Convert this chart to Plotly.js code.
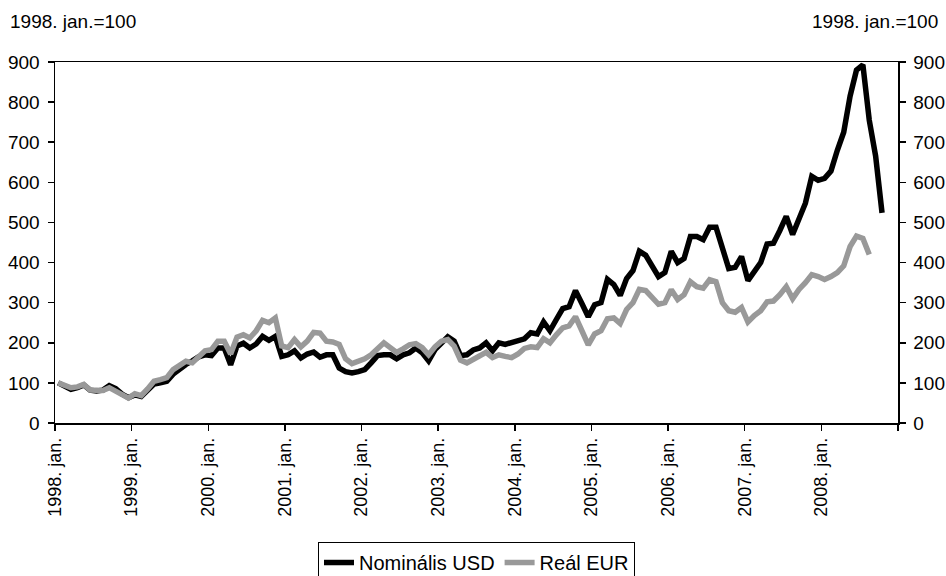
<!DOCTYPE html>
<html>
<head>
<meta charset="utf-8">
<script src="https://cdn.plot.ly/plotly-3.0.1.min.js"></script>
<style>html,body{margin:0;padding:0;background:#fff}#chart{width:946px;height:576px}</style>
</head>
<body>
<div id="chart"></div>
<script>
// Monthly index, 1998. jan. = 100
const yearLabels = ["1998. jan.","1999. jan.","2000. jan.","2001. jan.","2002. jan.","2003. jan.","2004. jan.","2005. jan.","2006. jan.","2007. jan.","2008. jan.",""];

const nominalUSD = [
  100, 92, 84, 88, 95, 82, 80, 82, 93, 86, 72, 63,        // 1998
  70, 66, 80, 97, 100, 104, 122, 135, 146, 155, 165, 170,  // 1999
  168, 187, 187, 145, 192, 199, 187, 197, 216, 206, 216, 166, // 2000
  170, 180, 162, 172, 177, 164, 170, 170, 137, 128, 125, 128, // 2001
  133, 150, 168, 170, 170, 160, 170, 175, 187, 175, 155, 183, // 2002
  200, 215, 204, 168, 170, 182, 187, 200, 180, 200, 196, 200, // 2003
  205, 210, 225, 222, 252, 230, 258, 285, 290, 330, 298, 265, // 2004
  295, 300, 358, 345, 318, 360, 380, 428, 418, 393, 365, 375, // 2005
  428, 400, 410, 465, 465, 457, 488, 488, 430, 385, 388, 415, // 2006
  355, 378, 400, 446, 448, 480, 515, 470, 508, 548, 615, 605, // 2007
  610, 628, 680, 725, 815, 880, 893, 755, 665, 524            // 2008
];

const realEUR = [
  100, 94, 88, 90, 96, 82, 81, 81, 88, 80, 70, 62,         // 1998
  73, 68, 85, 104, 108, 113, 133, 142, 154, 150, 165, 180,  // 1999
  183, 204, 204, 172, 214, 220, 212, 230, 256, 250, 262, 192, // 2000
  188, 208, 190, 204, 226, 224, 204, 202, 196, 160, 148, 153, // 2001
  160, 170, 185, 200, 188, 176, 185, 195, 198, 188, 170, 190, // 2002
  204, 208, 192, 157, 150, 160, 170, 176, 163, 170, 166, 163, // 2003
  172, 186, 190, 188, 210, 200, 220, 237, 242, 265, 230, 195, // 2004
  222, 230, 260, 262, 248, 283, 300, 333, 330, 312, 296, 300, // 2005
  332, 308, 320, 352, 340, 336, 357, 352, 300, 280, 276, 288, // 2006
  252, 268, 280, 302, 304, 320, 340, 310, 333, 350, 370, 365, // 2007
  358, 365, 375, 392, 440, 466, 460, 420                      // 2008
];

// month positions: each month sits in the middle of its category slot
function monthPos(n){ const a=[]; for(let i=0;i<n;i++) a.push(i+0.5); return a; }
const tickPos = yearLabels.map((_, k) => k*12);

const FONT = "Liberation Sans, Arial, sans-serif";
const FS = 19;

const traces = [
  {x: monthPos(nominalUSD.length), y: nominalUSD, type: "scatter", mode: "lines",
   name: "Nominális USD", line: {color: "#000000", width: 5.5}},
  {x: monthPos(realEUR.length), y: realEUR, type: "scatter", mode: "lines",
   name: "Reál EUR", line: {color: "#999999", width: 5.5}},
  {x: [0], y: [0], yaxis: "y2", type: "scatter", mode: "lines", showlegend: false,
   hoverinfo: "skip", line: {color: "rgba(0,0,0,0)", width: 0}}
];

const layout = {
  width: 946, height: 576,
  margin: {l: 55, r: 48, t: 62, b: 153},
  paper_bgcolor: "#fff", plot_bgcolor: "#fff",
  font: {family: FONT, size: FS, color: "#000"},
  showlegend: true,
  xaxis: {
    range: [0, 132], tickmode: "array", tickvals: tickPos, ticktext: yearLabels,
    tickangle: -90, ticks: "outside", ticklen: 6, tickcolor: "#000", tickwidth: 1.5,
    showline: true, linecolor: "#000", linewidth: 1.5, mirror: true, automargin: false,
    showgrid: false, zeroline: false, tickfont: {family: FONT, size: 18}
  },
  yaxis: {
    range: [0, 900], dtick: 100, ticks: "outside", ticklen: 6, tickcolor: "#000", tickwidth: 1.5,
    showline: true, linecolor: "#000", linewidth: 1.5, showgrid: false, zeroline: false,
    automargin: false, ticklabelstandoff: 4, tickfont: {family: FONT, size: FS}
  },
  yaxis2: {
    range: [0, 900], dtick: 100, overlaying: "y", side: "right", ticks: "outside", ticklen: 6,
    tickcolor: "#000", tickwidth: 1.5, showline: true, linecolor: "#000", linewidth: 1.5,
    showgrid: false, zeroline: false, automargin: false, ticklabelstandoff: 4,
    tickfont: {family: FONT, size: FS}
  },
  legend: {
    orientation: "h", xref: "paper", x: 0.5, xanchor: "center",
    yref: "container", y: 0.059, yanchor: "top",
    bordercolor: "#000", borderwidth: 1, font: {family: FONT, size: 20},
    bgcolor: "#fff"
  },
  annotations: [
    {text: "1998. jan.=100", xref: "paper", yref: "paper", x: -0.0558, y: 1.111,
     xanchor: "left", yanchor: "middle", showarrow: false, font: {family: FONT, size: FS}},
    {text: "1998. jan.=100", xref: "paper", yref: "paper", x: 1.0498, y: 1.111,
     xanchor: "right", yanchor: "middle", showarrow: false, font: {family: FONT, size: FS}}
  ]
};

Plotly.newPlot("chart", traces, layout, {displayModeBar: false, staticPlot: true});
</script>
</body>
</html>
